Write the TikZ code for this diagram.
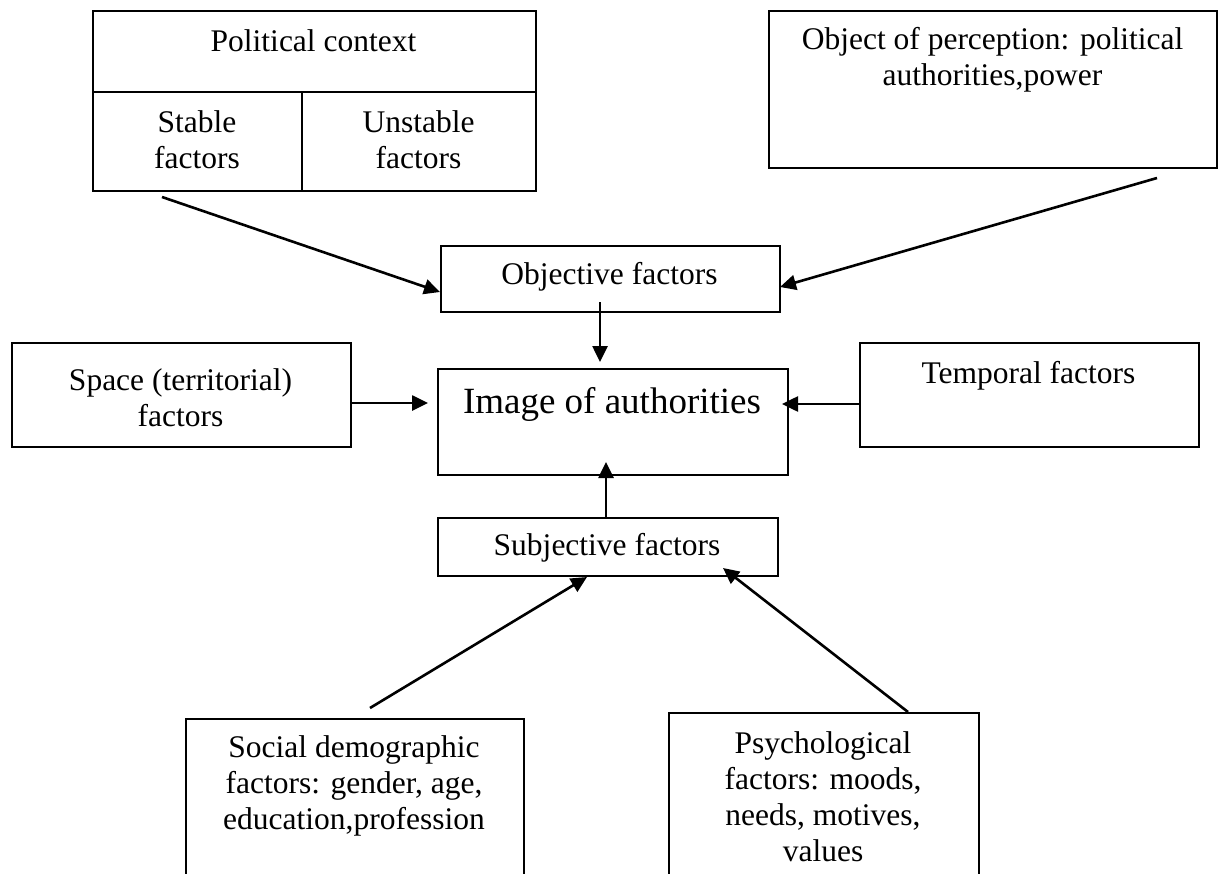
\documentclass[tikz,border=0pt]{standalone}
\usepackage{fontspec}
\setmainfont{Liberation Serif}
\usetikzlibrary{arrows.meta}
\begin{document}
\begin{tikzpicture}[x=1pt,y=-1pt,
  box/.style={draw, line width=1.8pt, rectangle, inner sep=0pt, anchor=north west},
  boxline/.style={line width=1.8pt},
  txt/.style={inner sep=0pt, anchor=base, font=\fontsize{31.5}{36}\selectfont},
  bigtxt/.style={inner sep=0pt, anchor=base, font=\fontsize{37}{42}\selectfont},
  arr/.style={line width=2.6pt, -{Triangle[length=16pt,width=15pt]}}]
\useasboundingbox (0,0) rectangle (1222,874);
\fill[white] (0,0) rectangle (1222,874);
\clip (0,0) rectangle (1222,874);
% boxes
\node[box, minimum width=443pt, minimum height=180pt] (pol) at (92,10) {};
\draw[boxline] (92,92) -- (535,92) (302,92) -- (302,190);
\node[box, minimum width=448pt, minimum height=157pt] (obj) at (768,10) {};
\node[box, minimum width=339pt, minimum height=66pt] (objf) at (440,245) {};
\node[box, minimum width=350pt, minimum height=106pt] (img) at (437,368) {};
\node[box, minimum width=340pt, minimum height=58pt] (subj) at (437,517) {};
\node[box, minimum width=339pt, minimum height=104pt] (space) at (11,342) {};
\node[box, minimum width=339pt, minimum height=104pt] (temp) at (859,342) {};
\node[box, minimum width=338pt, minimum height=180pt] (soc) at (185,718) {};
\node[box, minimum width=310pt, minimum height=186pt] (psy) at (668,712) {};
% texts
\node[txt] (tpol) at (313.5,52) {Political context};
\node[txt] (tst) at (197,133) {\parbox[t]{200pt}{\centering Stable\\factors}};
\node[txt] (tun) at (418.5,133) {\parbox[t]{220pt}{\centering Unstable\\factors}};
\node[txt] (tobj) at (992.5,50) {\parbox[t]{440pt}{\centering Object of perception: political\\authorities,power}};
\node[txt] (tobjf) at (609.5,285) {Objective factors};
\node[bigtxt] (timg) at (612,413) {Image of authorities};
\node[txt] (tsubj) at (607,555) {Subjective factors};
\node[txt] (tspace) at (180.5,390) {\parbox[t]{330pt}{\centering Space (territorial)\\factors}};
\node[txt] (ttemp) at (1028.5,383) {Temporal factors};
\node[txt] (tsoc) at (354,757) {\parbox[t]{336pt}{\centering Social demographic\\factors: gender, age,\\education,profession}};
\node[txt] (tpsy) at (823,753) {\parbox[t]{306pt}{\centering Psychological\\factors: moods,\\needs, motives,\\values}};
% connector end points
\coordinate (polS) at (162,197);
\coordinate (objfL) at (440,292);
\coordinate (objS) at (1157,178);
\coordinate (objfR) at (780,287);
\coordinate (objfB) at (600,302);
\coordinate (imgT) at (600,362);
\coordinate (spaceR) at (350,403);
\coordinate (imgL) at (428,403);
\coordinate (tempL) at (859,404);
\coordinate (imgR) at (782,404);
\coordinate (subjT) at (606,517);
\coordinate (imgB) at (606,462);
\coordinate (socT) at (370,708);
\coordinate (subjBL) at (587,577);
\coordinate (psyT) at (908,712);
\coordinate (subjBR) at (723,568);
% connectors
\draw[arr] (polS) -- (objfL);
\draw[arr] (objS) -- (objfR);
\draw[arr] (objfB) -- (imgT);
\draw[arr] (spaceR) -- (imgL);
\draw[arr] (tempL) -- (imgR);
\draw[arr] (subjT) -- (imgB);
\draw[arr] (socT) -- (subjBL);
\draw[arr] (psyT) -- (subjBR);
\end{tikzpicture}
\end{document}
